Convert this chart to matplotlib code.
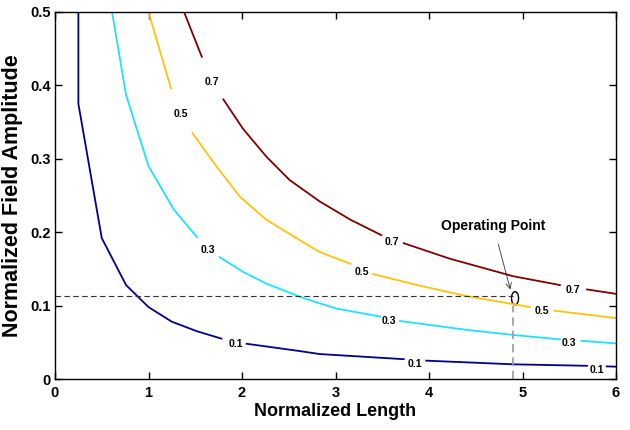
import numpy as np
import matplotlib.pyplot as plt
from matplotlib.patches import Ellipse

# contour lines (x = normalized length, y = normalized field amplitude)
x_01 = [0.25, 0.25, 0.50, 0.76, 1.00, 1.25, 1.52, 1.78, 2.05, 2.62, 2.83, 3.73, 3.97, 4.90, 5.69, 6.00]
y_01 = [0.50, 0.375, 0.192, 0.128, 0.098, 0.078, 0.065, 0.055, 0.048, 0.038, 0.034, 0.027, 0.025, 0.020, 0.018, 0.0168]

x_03 = [0.61, 0.76, 1.00, 1.27, 1.52, 1.76, 2.01, 2.26, 2.62, 2.83, 3.01, 3.48, 3.69, 4.40, 4.90, 5.40, 5.63, 6.00]
y_03 = [0.50, 0.387, 0.29, 0.231, 0.193, 0.166, 0.146, 0.130, 0.112, 0.103, 0.096, 0.085, 0.079, 0.067, 0.060, 0.054, 0.052, 0.0485]

x_05 = [1.00, 1.24, 1.47, 1.73, 1.98, 2.26, 2.62, 2.83, 3.16, 3.40, 3.87, 4.40, 4.90, 5.08, 5.34, 6.00]
y_05 = [0.50, 0.396, 0.335, 0.289, 0.248, 0.217, 0.189, 0.173, 0.157, 0.143, 0.128, 0.113, 0.102, 0.098, 0.093, 0.083]

x_07 = [1.38, 1.57, 1.80, 2.01, 2.26, 2.51, 2.83, 3.16, 3.49, 3.73, 4.22, 4.90, 5.40, 5.69, 6.00]
y_07 = [0.50, 0.439, 0.381, 0.341, 0.303, 0.271, 0.242, 0.217, 0.196, 0.185, 0.164, 0.140, 0.128, 0.122, 0.116]

# label gaps (x ranges where the line is broken for the label)
gaps_01 = [(1.78, 2.05), (3.73, 3.97), (5.69, 5.90)]
gaps_03 = [(1.52, 1.76), (3.48, 3.69), (5.40, 5.63)]
gaps_05 = [(1.24, 1.47), (3.16, 3.40), (5.08, 5.34)]
gaps_07 = [(1.57, 1.80), (3.49, 3.73), (5.40, 5.69)]

labels_01 = [(1.93, 0.048), (3.85, 0.021), (5.79, 0.012)]
labels_03 = [(1.64, 0.176), (3.57, 0.079), (5.50, 0.049)]
labels_05 = [(1.35, 0.361), (3.28, 0.146), (5.21, 0.092)]
labels_07 = [(1.68, 0.405), (3.60, 0.187), (5.54, 0.121)]

op_x, op_y = 4.92, 0.110
level_y = 0.1135

plt.rcParams['font.family'] = ['Liberation Sans', 'DejaVu Sans']
plt.rcParams['font.weight'] = 'bold'
plt.rcParams['axes.labelweight'] = 'bold'

fig = plt.figure(figsize=(6.3, 4.3), dpi=100)
ax = fig.add_axes([0.0873, 0.1186, 0.8905, 0.8535])


def draw_level(xs, ys, gaps, labels, text, color):
    xs = np.array(xs)
    ys = np.array(ys)
    pieces = []
    cur_x, cur_y = list(xs[:1]), list(ys[:1])
    k = 0
    for i in range(1, len(xs)):
        x0, x1 = xs[i - 1], xs[i]
        while k < len(gaps) and gaps[k][0] <= x1 and x1 > x0:
            g0, g1 = gaps[k]
            cur_x.append(g0)
            cur_y.append(np.interp(g0, [x0, x1], [ys[i - 1], ys[i]]))
            pieces.append((cur_x, cur_y))
            cur_x, cur_y = [g1], [np.interp(g1, xs[1:], ys[1:])]
            k += 1
        if not pieces or xs[i] > cur_x[0]:
            cur_x.append(xs[i])
            cur_y.append(ys[i])
    pieces.append((cur_x, cur_y))
    for px, py in pieces:
        ax.plot(px, py, color=color, lw=1.3)
    for lx, ly in labels:
        ax.text(lx, ly, text, fontsize=7.5, ha='center', va='center',
                color='black', fontweight='bold')


draw_level(x_01, y_01, gaps_01, labels_01, '0.1', '#00008f')
draw_level(x_03, y_03, gaps_03, labels_03, '0.3', '#1ee1ff')
draw_level(x_05, y_05, gaps_05, labels_05, '0.5', '#ffc20e')
draw_level(x_07, y_07, gaps_07, labels_07, '0.7', '#800000')

# operating point
ax.plot([0, 4.90], [level_y, level_y], color='#333333', lw=0.8, ls=(0, (5, 3)))
ax.plot([4.90, 4.90], [0, 0.1], color='#999999', lw=1.2, ls=(0, (5, 3)))
ax.add_patch(Ellipse((op_x, op_y), 0.075, 0.018, fill=False, ec='black', lw=1.0))
ax.annotate('Operating Point', xy=(4.87, 0.122), xytext=(4.69, 0.208),
            ha='center', va='center', fontsize=10, fontweight='bold',
            arrowprops=dict(arrowstyle='->', color='#333333', lw=0.6,
                            shrinkA=6, shrinkB=0))

ax.set_xlim(0, 6)
ax.set_ylim(0, 0.5)
ax.set_xticks([0, 1, 2, 3, 4, 5, 6])
ax.set_yticks([0, 0.1, 0.2, 0.3, 0.4, 0.5])
ax.set_yticklabels(['0', '0.1', '0.2', '0.3', '0.4', '0.5'])
ax.tick_params(direction='in', top=True, right=True, length=5, width=1, labelsize=10.5)
ax.tick_params(axis='x', pad=5)
ax.tick_params(axis='y', pad=3)
for lab in ax.get_xticklabels() + ax.get_yticklabels():
    lab.set_fontweight('bold')
for s in ax.spines.values():
    s.set_linewidth(1.0)
ax.set_xlabel('Normalized Length', fontsize=13, fontweight='bold', labelpad=2)
ax.set_ylabel('Normalized Field Amplitude', fontsize=15.5, fontweight='bold', labelpad=5)

fig.savefig('out.png', dpi=100)
